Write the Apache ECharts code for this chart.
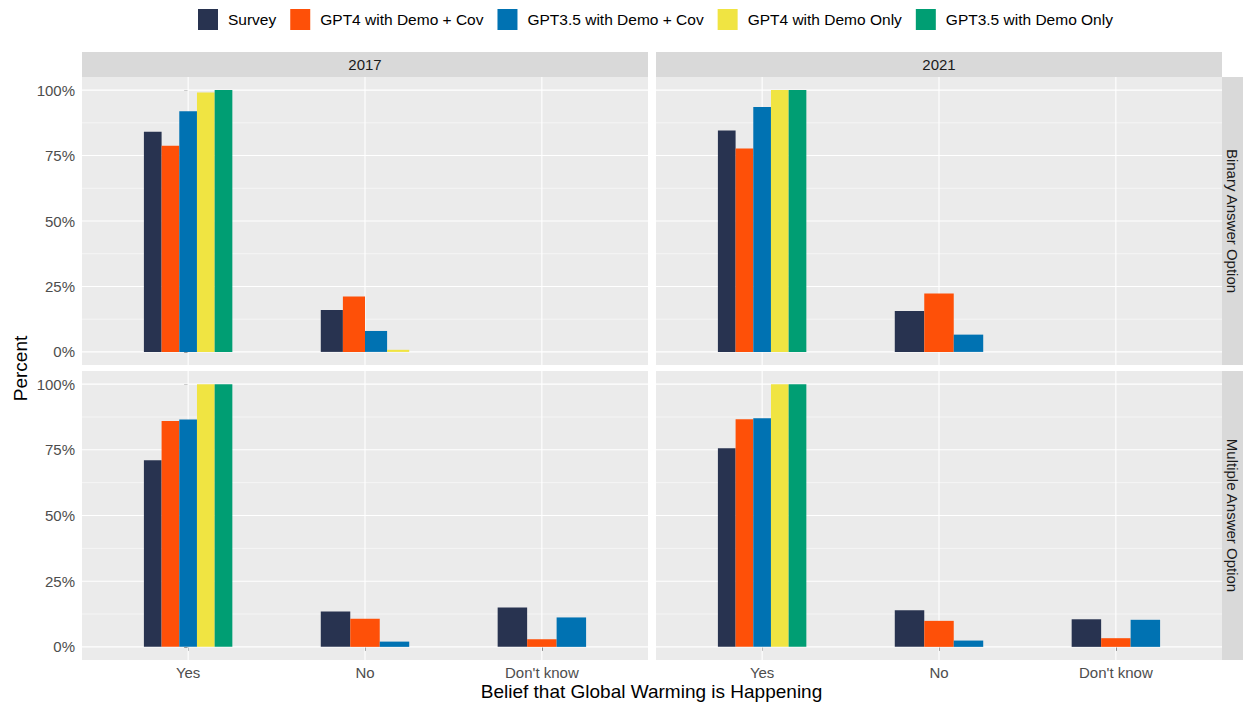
<!DOCTYPE html>
<html>
<head>
<meta charset="utf-8">
<script src="https://cdn.jsdelivr.net/npm/echarts@6/dist/echarts.min.js"></script>
<style>
html,body{margin:0;padding:0;background:#fff;}
#chart{width:1243px;height:706px;}
</style>
</head>
<body>
<div id="chart"></div>
<script>
// ---- Data ----
const categories = ['Yes', 'No', "Don't know"];
const seriesNames = ['Survey', 'GPT4 with Demo + Cov', 'GPT3.5 with Demo + Cov', 'GPT4 with Demo Only', 'GPT3.5 with Demo Only'];
const seriesColors = ['#283350', '#FE5008', '#0072B2', '#F0E442', '#009E73'];
const yearLabels = ['2017', '2021'];
const rowLabels = ['Binary Answer Option', 'Multiple Answer Option'];
const yTickValues = [0, 25, 50, 75, 100];
const yMinorValues = [12.5, 37.5, 62.5, 87.5];

// values in percent: one array per series, entries per category (Yes, No, Don't know)
const binary2017 = [
  [84.1, 16.0, null],
  [78.7, 21.2, null],
  [91.9, 8.0, null],
  [99.1, 0.8, null],
  [100.0, null, null]
];
const binary2021 = [
  [84.6, 15.6, null],
  [77.7, 22.3, null],
  [93.5, 6.6, null],
  [100.0, null, null],
  [100.0, null, null]
];
const multiple2017 = [
  [71.0, 13.5, 15.0],
  [86.0, 10.7, 2.9],
  [86.5, 2.0, 11.2],
  [100.0, null, null],
  [100.0, null, null]
];
const multiple2021 = [
  [75.6, 13.9, 10.5],
  [86.6, 9.9, 3.3],
  [87.0, 2.4, 10.3],
  [100.0, null, null],
  [100.0, null, null]
];
const panels = [binary2017, binary2021, multiple2017, multiple2021];

// ---- Layout ----
const DODGE = 0.5;
const gridBoxes = [
  {left: 82, top: 77, width: 566, height: 288},
  {left: 656, top: 77, width: 566, height: 288},
  {left: 82, top: 371, width: 566, height: 289},
  {left: 656, top: 371, width: 566, height: 289}
];
const FONT = '"Liberation Sans", Arial, sans-serif';

function barRender(params, api) {
  const cat = api.value(0), val = api.value(1), slot = api.value(2), n = api.value(3);
  const unit = api.size([1, 0])[0];
  const total = unit * DODGE;
  const w = total / n;
  const base = api.coord([cat, 0]);
  const top = api.coord([cat, val]);
  const x = base[0] - total / 2 + slot * w;
  return {
    type: 'rect',
    shape: {x: x, y: top[1], width: w, height: base[1] - top[1]},
    style: {fill: api.visual('color')}
  };
}

function gridRender(params, api) {
  const cs = params.coordSys;
  const orient = api.value(3);
  const major = api.value(2);
  const lw = major ? 1.1 : 0.55;
  if (orient === 0) {
    const y = api.coord([0, api.value(1)])[1];
    return {type: 'line', shape: {x1: cs.x, y1: y, x2: cs.x + cs.width, y2: y},
      style: {stroke: '#FFFFFF', lineWidth: lw}};
  } else {
    const x = api.coord([api.value(0), 0])[0];
    return {type: 'line', shape: {x1: x, y1: cs.y, x2: x, y2: cs.y + cs.height},
      style: {stroke: '#FFFFFF', lineWidth: lw}};
  }
}

const grids = [], xAxes = [], yAxes = [], series = [];
gridBoxes.forEach(function (g, p) {
  grids.push({left: g.left, top: g.top, width: g.width, height: g.height,
    show: true, backgroundColor: '#EBEBEB', borderWidth: 0, containLabel: false});
  const bottomRow = p >= 2, leftCol = (p % 2) === 0;
  xAxes.push({
    type: 'value', gridIndex: p, min: -0.6, max: 2.6,
    axisLine: {show: false},
    splitLine: {show: false},
    axisTick: {show: bottomRow, customValues: [0, 1, 2], length: 4, lineStyle: {color: '#333333', width: 1}},
    axisLabel: {show: bottomRow, customValues: [0, 1, 2], margin: 5,
      formatter: function (v) { return categories[Math.round(v)]; },
      color: '#4D4D4D', fontSize: 15, fontFamily: FONT}
  });
  yAxes.push({
    type: 'value', gridIndex: p, min: -5, max: 105,
    axisLine: {show: false},
    splitLine: {show: false},
    axisTick: {show: leftCol, customValues: yTickValues, length: 4, lineStyle: {color: '#333333', width: 1}},
    axisLabel: {show: leftCol, customValues: yTickValues, margin: 7,
      formatter: function (v) { return v + '%'; },
      color: '#4D4D4D', fontSize: 15, fontFamily: FONT}
  });
  // gridlines (drawn through axis scales)
  const gl = [];
  yTickValues.forEach(function (v) { gl.push([0, v, 1, 0]); });
  yMinorValues.forEach(function (v) { gl.push([0, v, 0, 0]); });
  [0, 1, 2].forEach(function (c) { gl.push([c, 0, 1, 1]); });
  series.push({type: 'custom', xAxisIndex: p, yAxisIndex: p, silent: true, z: 1,
    renderItem: gridRender, data: gl, encode: {x: 0, y: 1}, tooltip: {show: false}});
  // bars
  const vals = panels[p];
  const counts = categories.map(function (c, ci) {
    return vals.filter(function (s) { return s[ci] !== null; }).length;
  });
  vals.forEach(function (sv, si) {
    const data = [];
    sv.forEach(function (v, ci) {
      if (v === null) return;
      let slot = 0;
      for (let k = 0; k < si; k++) if (vals[k][ci] !== null) slot++;
      data.push([ci, v, slot, counts[ci]]);
    });
    series.push({type: 'custom', name: seriesNames[si], xAxisIndex: p, yAxisIndex: p, z: 2,
      itemStyle: {color: seriesColors[si]}, renderItem: barRender, data: data,
      encode: {x: 0, y: 1}});
  });
});

const stripColor = '#D9D9D9';
const graphic = [
  {type: 'rect', shape: {x: 82, y: 52, width: 566, height: 25}, style: {fill: stripColor}, silent: true},
  {type: 'rect', shape: {x: 656, y: 52, width: 566, height: 25}, style: {fill: stripColor}, silent: true},
  {type: 'text', x: 365, y: 64.5, style: {text: yearLabels[0], fill: '#1A1A1A', font: '15px ' + FONT, textAlign: 'center', textVerticalAlign: 'middle'}},
  {type: 'text', x: 939, y: 64.5, style: {text: yearLabels[1], fill: '#1A1A1A', font: '15px ' + FONT, textAlign: 'center', textVerticalAlign: 'middle'}},
  {type: 'rect', shape: {x: 1222, y: 77, width: 21, height: 288}, style: {fill: stripColor}, silent: true},
  {type: 'rect', shape: {x: 1222, y: 371, width: 21, height: 289}, style: {fill: stripColor}, silent: true},
  {type: 'text', x: 1232.5, y: 221, rotation: -Math.PI / 2, style: {text: rowLabels[0], fill: '#1A1A1A', font: '15px ' + FONT, textAlign: 'center', textVerticalAlign: 'middle'}},
  {type: 'text', x: 1232.5, y: 515.5, rotation: -Math.PI / 2, style: {text: rowLabels[1], fill: '#1A1A1A', font: '15px ' + FONT, textAlign: 'center', textVerticalAlign: 'middle'}},
  {type: 'text', x: 20, y: 368.5, rotation: Math.PI / 2, style: {text: 'Percent', fill: '#000000', font: '19px ' + FONT, textAlign: 'center', textVerticalAlign: 'middle'}},
  {type: 'text', x: 651.5, y: 691, style: {text: 'Belief that Global Warming is Happening', fill: '#000000', font: '19px ' + FONT, textAlign: 'center', textVerticalAlign: 'middle'}}
];

const chart = echarts.init(document.getElementById('chart'), null, {renderer: 'svg'});
chart.setOption({
  animation: false,
  backgroundColor: '#FFFFFF',
  legend: {
    data: seriesNames, left: 193, top: 4, itemWidth: 20, itemHeight: 21, itemGap: 14,
    icon: 'rect', selectedMode: false,
    textStyle: {color: '#000000', fontSize: 15.5, fontFamily: FONT, padding: [0, 0, 0, 5]}
  },
  grid: grids, xAxis: xAxes, yAxis: yAxes, series: series, graphic: graphic
});
</script>
</body>
</html>
